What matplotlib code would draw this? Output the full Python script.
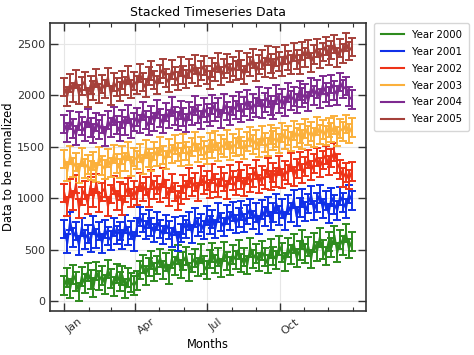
import matplotlib
matplotlib.use("Agg")
import matplotlib.pyplot as plt
import matplotlib.dates as mdates
from matplotlib.lines import Line2D
import numpy as np
import pandas as pd

labels = ["Year 2000", "Year 2001", "Year 2002", "Year 2003", "Year 2004", "Year 2005"]
colors = ["#2e8b1e", "#1030e8", "#ee3318", "#fbb03b", "#7e2a90", "#a5403a"]
errors = [90, 90, 90, 90, 90, 90]
month_ticks = ["2021-01-01", "2021-04-01", "2021-07-01", "2021-10-01"]

y2000 = [150, 230, 120, 260, 190, 90, 240, 170, 280, 210,
         130, 290, 200, 250, 160, 310, 220, 140, 270, 190,
         250, 120, 230, 180, 150, 200, 300, 360, 250, 330,
         400, 280, 350, 420, 300, 380, 260, 410, 340, 450,
         310, 390, 440, 280, 370, 420, 330, 460, 350, 300,
         410, 470, 360, 430, 320, 480, 390, 340, 450, 400,
         500, 370, 430, 350, 520, 410, 460, 380, 490, 430,
         360, 510, 440, 400, 540, 470, 380, 520, 450, 560,
         420, 490, 600, 460, 530, 410, 570, 480, 620, 500,
         440, 580, 520, 640, 470, 600, 540, 660, 510, 580]
y2001 = [700, 560, 780, 620, 680, 540, 720, 600, 650, 570,
         740, 610, 680, 560, 700, 630, 590, 720, 640, 680,
         600, 750, 630, 690, 580, 720, 820, 760, 690, 800,
         720, 660, 780, 700, 640, 750, 690, 620, 730, 580,
         660, 740, 700, 780, 650, 810, 720, 760, 690, 830,
         740, 800, 700, 860, 770, 720, 840, 780, 870, 750,
         810, 880, 760, 840, 900, 790, 860, 740, 890, 820,
         920, 780, 860, 950, 830, 900, 780, 940, 860, 990,
         820, 910, 1000, 870, 950, 1030, 880, 960, 1040, 900,
         980, 850, 1010, 940, 880, 1020, 960, 900, 1040, 980]
y2002 = [1050, 920, 1100, 980, 1140, 900, 1020, 1080, 940, 1120,
         1000, 1150, 960, 1060, 1100, 920, 1040, 1130, 980, 1070,
         930, 1050, 1110, 1000, 1080, 1020, 1160, 1060, 1120, 1000,
         1180, 1080, 1130, 1050, 1200, 1090, 1010, 1150, 1060, 980,
         1030, 1140, 1080, 1200, 1110, 1160, 1060, 1220, 1130, 1170,
         1090, 1240, 1150, 1100, 1210, 1160, 1080, 1230, 1170, 1120,
         1260, 1180, 1110, 1230, 1150, 1200, 1280, 1140, 1220, 1180,
         1300, 1170, 1250, 1200, 1320, 1190, 1270, 1230, 1350, 1210,
         1290, 1360, 1240, 1310, 1380, 1270, 1340, 1400, 1300, 1370,
         1420, 1320, 1390, 1450, 1340, 1280, 1200, 1250, 1180, 1260]
y2003 = [1380, 1260, 1420, 1300, 1350, 1240, 1400, 1290, 1330, 1270,
         1360, 1250, 1410, 1320, 1280, 1390, 1300, 1430, 1340, 1290,
         1420, 1350, 1460, 1310, 1400, 1370, 1440, 1330, 1480, 1390,
         1350, 1460, 1400, 1510, 1420, 1370, 1490, 1430, 1520, 1450,
         1400, 1530, 1460, 1410, 1500, 1550, 1440, 1510, 1470, 1420,
         1540, 1480, 1560, 1450, 1520, 1490, 1570, 1460, 1530, 1500,
         1580, 1510, 1470, 1550, 1600, 1520, 1570, 1490, 1610, 1540,
         1500, 1620, 1560, 1590, 1530, 1640, 1570, 1610, 1550, 1660,
         1590, 1630, 1570, 1680, 1610, 1650, 1590, 1700, 1620, 1670,
         1610, 1690, 1640, 1710, 1600, 1680, 1650, 1720, 1630, 1690]
y2004 = [1720, 1640, 1760, 1680, 1610, 1750, 1700, 1650, 1780, 1690,
         1630, 1740, 1670, 1720, 1600, 1760, 1690, 1800, 1710, 1650,
         1770, 1700, 1820, 1680, 1740, 1790, 1720, 1850, 1760, 1700,
         1810, 1740, 1870, 1780, 1720, 1840, 1770, 1890, 1800, 1750,
         1860, 1790, 1730, 1850, 1800, 1900, 1820, 1760, 1880, 1830,
         1790, 1910, 1840, 1880, 1770, 1920, 1850, 1800, 1900, 1860,
         1940, 1830, 1890, 1960, 1850, 1920, 1880, 1990, 1870, 1930,
         1980, 1900, 1860, 2010, 1920, 1970, 1890, 2030, 1950, 1990,
         1920, 2050, 1980, 2020, 1940, 2080, 2000, 2060, 1970, 2100,
         2030, 1990, 2110, 2050, 2000, 2130, 2060, 2090, 1990, 1960]
y2005 = [2080, 1990, 2120, 2030, 2160, 2010, 2090, 2140, 1980, 2100,
         2050, 2170, 2020, 2110, 2060, 2180, 2000, 2130, 2080, 2040,
         2150, 2090, 2200, 2060, 2140, 2100, 2220, 2130, 2070, 2190,
         2240, 2150, 2100, 2210, 2260, 2170, 2120, 2250, 2190, 2140,
         2280, 2200, 2160, 2260, 2210, 2300, 2180, 2240, 2290, 2200,
         2150, 2270, 2230, 2320, 2190, 2260, 2310, 2220, 2280, 2240,
         2340, 2250, 2200, 2320, 2280, 2360, 2230, 2300, 2350, 2270,
         2390, 2310, 2260, 2380, 2330, 2280, 2400, 2340, 2300, 2420,
         2350, 2300, 2430, 2370, 2450, 2320, 2400, 2460, 2360, 2420,
         2480, 2390, 2440, 2500, 2370, 2460, 2410, 2520, 2430, 2470]

series = [y2000, y2001, y2002, y2003, y2004, y2005]
dates = pd.date_range("2021-01-01", "2021-12-31", periods=len(y2000))

fig = plt.figure(figsize=(4.74, 3.55), dpi=100)
ax = fig.add_axes([0.1055, 0.124, 0.667, 0.812])

for vals, lab, col, err in zip(series, labels, colors, errors):
    ax.errorbar(dates, vals, yerr=err, color=col, label=lab, lw=1.4,
                elinewidth=1.4, capsize=2.8, capthick=1.4)

ax.margins(x=0.05)
ax.set_ylim(-97, 2707)
ax.set_yticks([0, 500, 1000, 1500, 2000, 2500])
ax.set_xticks(pd.to_datetime(month_ticks))
ax.xaxis.set_minor_locator(mdates.MonthLocator())
ax.xaxis.set_major_formatter(mdates.DateFormatter("%b"))
ax.tick_params(which="both", direction="in", top=True, right=True, labelsize=8, colors="#333333")
ax.tick_params(which="major", length=6, width=1)
ax.tick_params(which="minor", length=3, width=0.8)
ax.tick_params(axis="x", which="major", pad=4)
for lbl in ax.get_xticklabels():
    lbl.set_rotation(38)
    lbl.set_ha("left")
ax.grid(True, color="#e6e6e6", lw=0.8)
ax.set_axisbelow(True)
for s in ax.spines.values():
    s.set_color("#333333")
    s.set_linewidth(1.2)

ax.set_title("Stacked Timeseries Data", fontsize=9, pad=5)
ax.set_xlabel("Months", fontsize=8.3, labelpad=1)
ax.set_ylabel("Data to be normalized", fontsize=8.3)
ax.yaxis.set_label_coords(-0.111, 0.5)

handles = [Line2D([0], [0], color=c, lw=1.5) for c in colors]
ax.legend(handles, labels, loc="upper left", bbox_to_anchor=(1.025, 0.998), fontsize=7.3,
          handlelength=2.3, handletextpad=0.8, borderpad=0.65, labelspacing=0.68,
          borderaxespad=0.0, frameon=True)

fig.savefig("out.png", dpi=100)
